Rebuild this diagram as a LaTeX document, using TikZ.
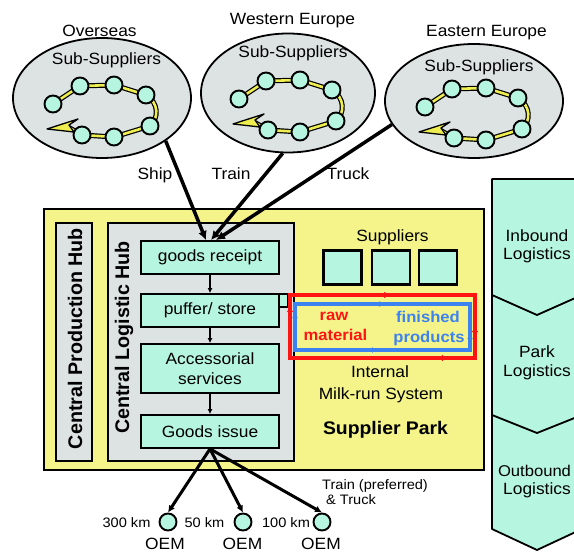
\documentclass[tikz,border=0pt]{standalone}
\usepackage{fontspec}
\setmainfont{Liberation Sans}[FakeStretch=1.065]
\newfontfamily\uprightsans{Liberation Sans}
\usetikzlibrary{arrows.meta,shapes.geometric}

\definecolor{parkyellow}{RGB}{244,244,138}
\definecolor{mint}{RGB}{182,245,224}
\definecolor{hubgray}{RGB}{221,227,227}
\definecolor{chainyellow}{RGB}{238,238,80}
\definecolor{milkred}{RGB}{255,20,20}
\definecolor{milkblue}{RGB}{60,130,240}

\tikzset{
  txt/.style={font=\fontsize{16.3}{20}\selectfont, inner sep=0pt},
  smalltxt/.style={font=\fontsize{13.7}{15}\selectfont, inner sep=0pt},
  milktxt/.style={font=\bfseries\fontsize{15.6}{19}\selectfont, inner sep=0pt},
  rottxt/.style={rotate=90, inner sep=0pt, font=\uprightsans\bfseries\fontsize{19.7}{22}\selectfont},
  stepbox/.style={draw, line width=1.8pt, fill=mint, minimum width=138pt, inner sep=0pt, txt, align=center},
  region/.style={draw, line width=1.8pt, fill=hubgray, ellipse, inner sep=0pt},
  supplierbox/.style={draw, line width=2.6pt, fill=mint, minimum width=38pt, minimum height=34pt, inner sep=0pt},
  station/.style={circle, draw, line width=1.9pt, fill=mint, minimum size=17pt, inner sep=0pt},
  flow/.style={line width=1.6pt, -{Latex[length=5pt,width=5pt]}},
  haul/.style={line width=3.5pt, -{Latex[length=9pt,width=9pt]}},
  delivery/.style={line width=3pt, -{Latex[length=7pt,width=7pt]}},
}

% closed supplier chain drawn inside each sourcing region
\newcommand\supplierloop[2]{%
  \begin{scope}[shift={#2}]
    \foreach \w/\clr in {5pt/black, 2.6pt/chainyellow}
      \draw[line width=\w, color=\clr, line join=round]
        (-34,29) -- (-20,37) -- (12,39) -- (48,28)
        .. controls (57,20) and (57,5) .. (44,-3)
        -- (12,-13) -- (-22,-12) -- (-49,6);
    \draw[fill=chainyellow, line width=1.3pt, line join=round]
      (-55,31) -- (-24,21) -- (-33,27) -- (-28,34) -- cycle;
    \node[station] (#1-1) at (-49,6) {};
    \node[station] (#1-2) at (-22,-12) {};
    \node[station] (#1-3) at (12,-13) {};
    \node[station] (#1-4) at (44,-3) {};
    \node[station] (#1-5) at (48,28) {};
    \node[station] (#1-6) at (12,39) {};
    \node[station] (#1-7) at (-20,37) {};
  \end{scope}}

\begin{document}
\begin{tikzpicture}[x=1pt,y=-1pt]
\useasboundingbox (0,0) rectangle (574,553);
\fill[white] (0,0) rectangle (574,553);
\clip (0,0) rectangle (574,553);

% value-chain column on the right
\draw[fill=mint, line width=1.8pt, line join=round]
  (492,179) -- (582,179) -- (582,529) -- (537,550) -- (492,529) -- cycle;
\draw[line width=1.8pt] (492,295) -- (537,315) -- (582,295);
\draw[line width=1.8pt] (492,415) -- (537,433) -- (582,415);
\node[txt, anchor=base] (inb1) at (537,242) {Inbound};
\node[txt, anchor=base] (inb2) at (537,260) {Logistics};
\node[txt, anchor=base] (park1) at (537,358) {Park};
\node[txt, anchor=base] (park2) at (537,377) {Logistics};
\node[anchor=base, inner sep=0pt, font=\fontsize{15.6}{20}\selectfont] (outb1) at (534.5,477) {Outbound};
\node[txt, anchor=base] (outb2) at (537,495) {Logistics};

% supplier park area
\draw[fill=parkyellow, line width=1.3pt] (44,209) rectangle (484,470);
\draw[fill=hubgray, line width=2.2pt] (56,223) rectangle (92,461);
\draw[fill=hubgray, line width=2.2pt] (108,223) rectangle (294,461);
\node[rottxt] (cph) at (75,338.5) {Central Production Hub};
\node[rottxt] (clh) at (124,337.5) {Central Logistic Hub};

% process steps of the logistic hub
\draw[fill=mint, line width=1.8pt] (279,294) -- (288,294) -- (288,307) -- (279,307);
\node[stepbox, minimum height=33pt] (gr) at (210,257.5) {goods receipt};
\node[stepbox, minimum height=33pt] (ps) at (210,310.5) {puffer/ store};
\node[stepbox, minimum height=49pt] (as) at (210,368.5) {Accessorial\\services};
\node[stepbox, minimum height=33pt] (gi) at (210,431.5) {Goods issue};
\draw[flow] (gr.south) -- (ps.north);
\draw[flow] (ps.south) -- (as.north);
\draw[flow] (as.south) -- (gi.north);

% suppliers inside the park
\node[txt, anchor=base] (suplab) at (392.5,242) {Suppliers};
\node[supplierbox] (s1) at (342.5,267.5) {};
\node[supplierbox] (s2) at (391,267.5) {};
\node[supplierbox] (s3) at (438,267.5) {};

% internal milk-run loops
\draw[milkred, line width=4.5pt] (290,295) rectangle (475,358);
\draw[milkblue, line width=3.5pt] (295,304) rectangle (470,350);
\foreach \a/\b in {{(379,295)}/{(389,295)}, {(475,327)}/{(475,336)}, {(447,358)}/{(438,358)}, {(290,316)}/{(290,307)}}
  \draw[milkred, line width=2pt, -{Latex[length=5pt,width=7pt]}] \a -- \b;
\foreach \a/\b in {{(384,304)}/{(375,304)}, {(295,313)}/{(295,322)}, {(368,350)}/{(377,350)}, {(470,343)}/{(470,334)}}
  \draw[milkblue, line width=1.6pt, -{Latex[length=5pt,width=6pt]}] \a -- \b;
\node[milktxt, text=milkred, anchor=base] (raw1) at (334,321) {raw};
\node[milktxt, text=milkred, anchor=base] (raw2) at (335.5,340.5) {material};
\node[milktxt, text=milkblue, anchor=base] (fin1) at (428,322.5) {finished};
\node[milktxt, text=milkblue, anchor=base] (fin2) at (429,343) {products};
\node[txt, anchor=base] (mr1) at (380,378) {Internal};
\node[txt, anchor=base] (mr2) at (381,399.5) {Milk-run System};
\node[anchor=base, inner sep=0pt, font=\bfseries\fontsize{18.2}{22}\selectfont] (sp) at (385.5,435) {Supplier Park};

% sourcing regions
\node[region, minimum width=178pt, minimum height=120pt] (ov) at (102,98) {};
\node[region, minimum width=174pt, minimum height=119pt] (we) at (288,93) {};
\node[region, minimum width=178pt, minimum height=114pt] (ea) at (474,101) {};
\supplierloop{ovl}{(102,98)}
\supplierloop{wel}{(288,93)}
\supplierloop{eal}{(474,101)}
\node[txt, anchor=base] (ovt) at (99.5,37) {Overseas};
\node[txt, anchor=base] (ovs) at (106.5,65) {Sub-Suppliers};
\node[txt, anchor=base] (wet) at (292.5,25) {Western Europe};
\node[txt, anchor=base] (wes) at (293,58) {Sub-Suppliers};
\node[txt, anchor=base] (eat) at (486.5,37) {Eastern Europe};
\node[txt, anchor=base] (eas) at (479,72) {Sub-Suppliers};

% inbound transport
\draw[haul] (ov.-34) -- ([xshift=-4pt]gr.north);
\draw[haul] (we.-95) -- ([xshift=1pt]gr.north);
\draw[haul] (ea.196) -- ([xshift=6pt]gr.north);
\node[txt, anchor=base] (ship) at (155,180) {Ship};
\node[txt, anchor=base] (train) at (231,180) {Train};
\node[txt, anchor=base] (truck) at (348,180) {Truck};

% outbound delivery to the OEM plants
\node[station] (o1) at (168,522) {};
\node[station] (o2) at (243,522) {};
\node[station] (o3) at (322,522) {};
\draw[delivery] (gi.south) -- (o1.north);
\draw[delivery] (gi.south) -- (o2.north);
\draw[delivery] (gi.south) -- (o3.north);
\node[smalltxt, anchor=base] (d1) at (126.5,528) {300 km};
\node[smalltxt, anchor=base] (d2) at (204.5,528) {50 km};
\node[smalltxt, anchor=base] (d3) at (286,528) {100 km};
\node[txt, anchor=base] (oem1) at (165,550) {OEM};
\node[txt, anchor=base] (oem2) at (242.5,550) {OEM};
\node[txt, anchor=base] (oem3) at (321,550) {OEM};
\node[smalltxt, anchor=base west] (mode1) at (322,490) {Train (preferred)};
\node[smalltxt, anchor=base west] (mode2) at (326,505) {\& Truck};
\end{tikzpicture}
\end{document}
